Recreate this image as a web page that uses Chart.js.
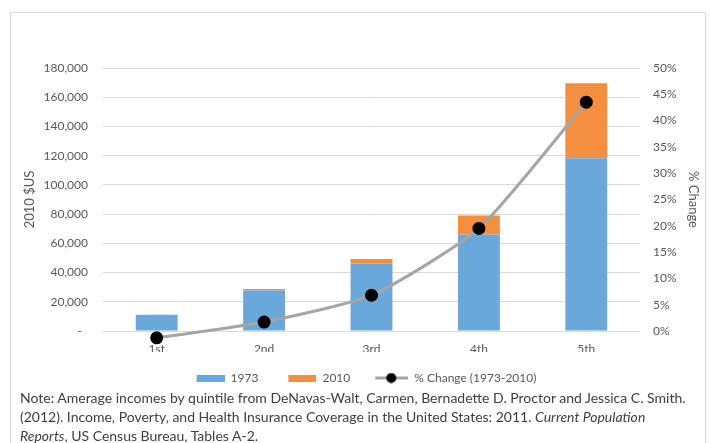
<!DOCTYPE html>
<html><head><meta charset="utf-8">
<script src="https://cdn.jsdelivr.net/npm/chart.js@4"></script>
<style>
html,body{margin:0;padding:0;background:#fff;width:710px;height:443px;overflow:hidden;font-family:Lato,"Open Sans",sans-serif}
#frame{position:absolute;left:10px;top:12px;width:696px;height:440px;border:1px solid #d9d9d9;box-sizing:border-box}
#wrap{position:absolute;left:0;top:0;width:710px;height:394px}
#note{position:absolute;left:20px;top:388px;width:690px;font-size:14px;line-height:19px;color:#404040;white-space:nowrap}
</style></head><body>
<div id="frame"></div>
<div id="wrap"><canvas id="c"></canvas></div>
<div id="note">Note: Amerage incomes by quintile from DeNavas-Walt, Carmen, Bernadette D. Proctor and Jessica C. Smith.<br>(2012). Income, Poverty, and Health Insurance Coverage in the United States: 2011. <i>Current Population</i><br><i>Reports</i>, US Census Bureau, Tables A-2.</div>
<script>
const quintiles = ['1st', '2nd', '3rd', '4th', '5th'];
const income1973 = [11200, 27700, 46200, 66000, 118300];
const change2010 = [-200, 1000, 3100, 13000, 51300];
const pctChange = [-1.3, 1.7, 6.8, 19.5, 43.5];
const seriesNames = ['1973', '2010', '% Change (1973-2010)'];

const BLUE = '#6aa8db', ORANGE = '#f38f3e', GRAY = '#a5a5a5', TXT = '#595959';
const ICON_W = 38;

function boxIcon(color) {
  const c = document.createElement('canvas'); c.width = ICON_W; c.height = 7;
  const x = c.getContext('2d'); x.fillStyle = color; x.fillRect(ICON_W - 28, 0, 28, 7); return c;
}
function lineIcon() {
  const c = document.createElement('canvas'); c.width = ICON_W; c.height = 11;
  const x = c.getContext('2d');
  x.strokeStyle = GRAY; x.lineWidth = 3; x.beginPath(); x.moveTo(ICON_W - 33, 5.5); x.lineTo(ICON_W + 2, 5.5); x.stroke();
  x.fillStyle = '#000'; x.beginPath(); x.arc(ICON_W - 17, 5.5, 5, 0, Math.PI * 2); x.fill(); return c;
}
const icons = [boxIcon(BLUE), boxIcon(ORANGE), lineIcon()];

const font = { family: 'Lato, "Open Sans", sans-serif', size: 12 };

new Chart(document.getElementById('c'), {
  data: {
    labels: quintiles,
    datasets: [
      { type: 'bar', label: seriesNames[0], data: income1973, backgroundColor: BLUE, yAxisID: 'y', stack: 's', order: 1, barPercentage: 0.39, categoryPercentage: 1 },
      { type: 'bar', label: seriesNames[1], data: change2010, backgroundColor: ORANGE, yAxisID: 'y', stack: 's', order: 1, barPercentage: 0.39, categoryPercentage: 1 },
      { type: 'line', label: seriesNames[2], data: pctChange, yAxisID: 'y1', borderColor: GRAY, borderWidth: 3, tension: 0.2, pointRadius: 5, pointHoverRadius: 5, pointBackgroundColor: '#000', pointBorderColor: '#000', clip: false, order: 0 }
    ]
  },
  options: {
    responsive: true, maintainAspectRatio: false, animation: false, devicePixelRatio: 1,
    layout: { padding: { top: 68, left: 18, right: 5, bottom: 0 } },
    plugins: {
      tooltip: { enabled: false },
      legend: {
        position: 'bottom',
        labels: {
          usePointStyle: true, pointStyleWidth: ICON_W, padding: 20, color: TXT, font: font,
          generateLabels: () => seriesNames.map((n, i) => ({ text: n, pointStyle: icons[i], fillStyle: 'rgba(0,0,0,0)', strokeStyle: 'rgba(0,0,0,0)', lineWidth: 0, hidden: false, datasetIndex: i, fontColor: TXT }))
        }
      }
    },
    scales: {
      x: {
        stacked: true, grid: { display: false, drawTicks: false }, border: { display: false },
        ticks: { color: TXT, font: font, padding: 11 },
        afterFit: s => { s.height = 21; }
      },
      y: {
        position: 'left', stacked: true, min: 0, max: 180000,
        grid: { color: '#d9d9d9', drawTicks: false }, border: { display: false },
        ticks: { stepSize: 20000, color: TXT, font: font, padding: 15, callback: v => v === 0 ? '-  ' : v.toLocaleString('en-US') },
        title: { display: true, text: '2010 $US', color: TXT, font: { family: font.family, size: 13 } },
        afterFit: s => { s.width = 85; }
      },
      y1: {
        position: 'right', min: 0, max: 50,
        grid: { display: false, drawTicks: false }, border: { display: false },
        ticks: { stepSize: 5, color: TXT, font: font, padding: 13, callback: v => v + '%' },
        title: { display: true, text: '% Change', color: TXT, font: { family: font.family, size: 13 } },
        afterFit: s => { s.width = 65; }
      }
    }
  }
});
</script>
</body></html>
